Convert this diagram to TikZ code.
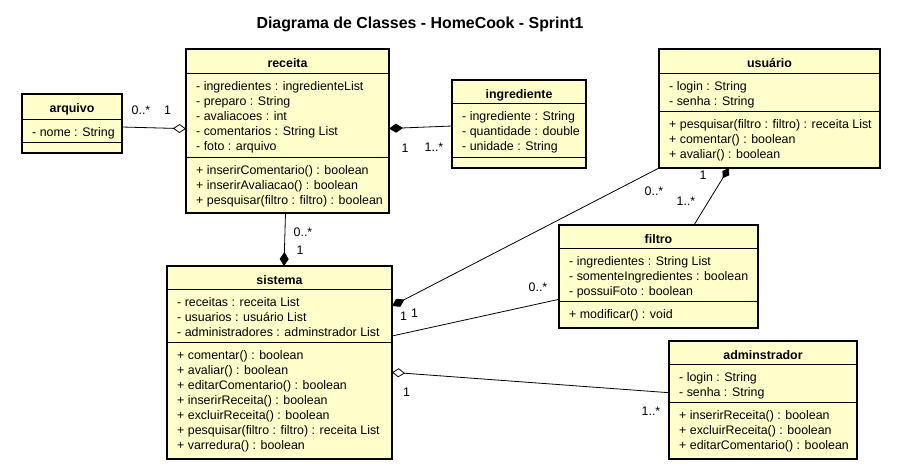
\documentclass[tikz,border=0pt]{standalone}
\usepackage{fontspec}
\setmainfont{Liberation Sans}
\usetikzlibrary{arrows.meta}
\definecolor{classfill}{HTML}{FFFFCC}
\tikzset{
  classbox/.style={draw=black, line width=2pt, fill=classfill, inner sep=0pt, outer sep=0pt, rectangle},
  sepline/.style={draw=black, line width=1pt},
  ctitle/.style={font=\fontsize{12.4}{15}\selectfont\bfseries, anchor=base, inner sep=0pt},
  ctext/.style={font=\fontsize{12.4}{15}\selectfont, anchor=north west, align=left, inner sep=0pt, yshift=-1pt},
  mult/.style={font=\fontsize{12.4}{15}\selectfont, inner sep=0pt},
  assoc/.style={draw=black, line width=0.8pt},
  comp/.style={assoc, -{Diamond[length=14pt,width=9pt]}},
  compstart/.style={assoc, {Diamond[length=14pt,width=9pt]}-},
  aggr/.style={assoc, -{Diamond[open,length=13pt,width=9pt]}},
}
\newcommand{\umlbox}[7]{%
  \node[classbox, anchor=north west, minimum width={(#4-#2)*1pt}, minimum height={(#5-#3)*1pt}] (#1) at (#2,#3) {};
  \draw[sepline] (#2,#6) -- (#4,#6);
  \draw[sepline] (#2,#7) -- (#4,#7);
}
\begin{document}
\begin{tikzpicture}[x=1pt,y=-1pt]
\useasboundingbox (0,0) rectangle (910,474);

\node[font=\fontsize{15.9}{18}\selectfont\bfseries, anchor=base, inner sep=0pt] (title) at (420,28) {Diagrama de Classes - HomeCook - Sprint1};

% arquivo
\umlbox{arquivo}{22}{94}{122}{153}{119}{142}
\node[ctitle] (arquivo-t) at (72,112.5) {arquivo};
\node[ctext] (arquivo-a) at (32,124.5) {\strut- nome : String};

% receita
\umlbox{receita}{186}{49}{389}{213}{73}{157}
\node[ctitle] (receita-t) at (287.5,67.5) {receita};
\node[ctext] (receita-a) at (196,78.5) {\strut- ingredientes : ingredienteList\\\strut- preparo : String\\\strut- avaliacoes : int\\\strut- comentarios : String List\\\strut- foto : arquivo};
\node[ctext] (receita-m) at (196,162.5) {\strut+ inserirComentario() : boolean\\\strut+ inserirAvaliacao() : boolean\\\strut+ pesquisar(filtro : filtro) : boolean};

% ingrediente
\umlbox{ingrediente}{452}{80}{586}{168}{103}{157}
\node[ctitle] (ingrediente-t) at (519,98) {ingrediente};
\node[ctext] (ingrediente-a) at (462,108.5) {\strut- ingrediente : String\\\strut- quantidade : double\\\strut- unidade : String};

% usuario
\umlbox{usuario}{659}{49}{880}{168}{73}{111}
\node[ctitle] (usuario-t) at (769.5,67.5) {usuário};
\node[ctext] (usuario-a) at (669,78.5) {\strut- login : String\\\strut- senha : String};
\node[ctext] (usuario-m) at (669,116.5) {\strut+ pesquisar(filtro : filtro) : receita List\\\strut+ comentar() : boolean\\\strut+ avaliar() : boolean};

% filtro
\umlbox{filtro}{559}{225}{758}{328}{248}{301}
\node[ctitle] (filtro-t) at (658.5,243.5) {filtro};
\node[ctext] (filtro-a) at (569,253.5) {\strut- ingredientes : String List\\\strut- somenteIngredientes : boolean\\\strut- possuiFoto : boolean};
\node[ctext] (filtro-m) at (569,306.5) {\strut+ modificar() : void};

% sistema
\umlbox{sistema}{167}{266}{392}{459}{289}{342}
\node[ctitle] (sistema-t) at (279.5,284.5) {sistema};
\node[ctext] (sistema-a) at (177,294.5) {\strut- receitas : receita List\\\strut- usuarios : usuário List\\\strut- administradores : adminstrador List};
\node[ctext] (sistema-m) at (177,347.5) {\strut+ comentar() : boolean\\\strut+ avaliar() : boolean\\\strut+ editarComentario() : boolean\\\strut+ inserirReceita() : boolean\\\strut+ excluirReceita() : boolean\\\strut+ pesquisar(filtro : filtro) : receita List\\\strut+ varredura() : boolean};

% adminstrador
\umlbox{adminstrador}{669}{341}{857}{459}{364}{402}
\node[ctitle] (adminstrador-t) at (763,359.5) {adminstrador};
\node[ctext] (adminstrador-a) at (679,369.5) {\strut- login : String\\\strut- senha : String};
\node[ctext] (adminstrador-m) at (679,407.5) {\strut+ inserirReceita() : boolean\\\strut+ excluirReceita() : boolean\\\strut+ editarComentario() : boolean};

% connectors
\draw[aggr] ([yshift=-3.5pt]arquivo.east) -- ([yshift=2.3pt]receita.west);
\draw[compstart] ([yshift=2.5pt]receita.east) -- ([yshift=-2pt]ingrediente.west);
\draw[comp] ([xshift=-2pt]receita.south) -- ([xshift=4.5pt]sistema.north);
\draw[comp] (usuario.south west) -- ([yshift=56.5pt]sistema.east);
\draw[assoc] ([yshift=26.5pt]sistema.east) -- ([yshift=-22.8pt]filtro.west);
\draw[assoc, {Diamond[length=12pt,width=8pt]}-] ([xshift=-40.5pt]usuario.south) -- ([xshift=35.5pt]filtro.north);
\draw[aggr] ([yshift=7.3pt]adminstrador.west) -- ([yshift=-9.8pt]sistema.east);

% multiplicities
\node[mult] (m1a) at (141,110) {0..*};
\node[mult] (m1b) at (167.5,110) {1};
\node[mult] (m2a) at (405,148) {1};
\node[mult] (m2b) at (434,147) {1..*};
\node[mult] (m3a) at (303,232) {0..*};
\node[mult] (m3b) at (300,250.5) {1};
\node[mult] (m4a) at (654,191) {0..*};
\node[mult] (m4b) at (403.5,316) {1};
\node[mult] (m5a) at (538,287) {0..*};
\node[mult] (m5b) at (414.5,313.5) {1};
\node[mult] (m6a) at (703,175) {1};
\node[mult] (m6b) at (686,201) {1..*};
\node[mult] (m7a) at (406.5,392.5) {1};
\node[mult] (m7b) at (651,411) {1..*};
\end{tikzpicture}
\end{document}
